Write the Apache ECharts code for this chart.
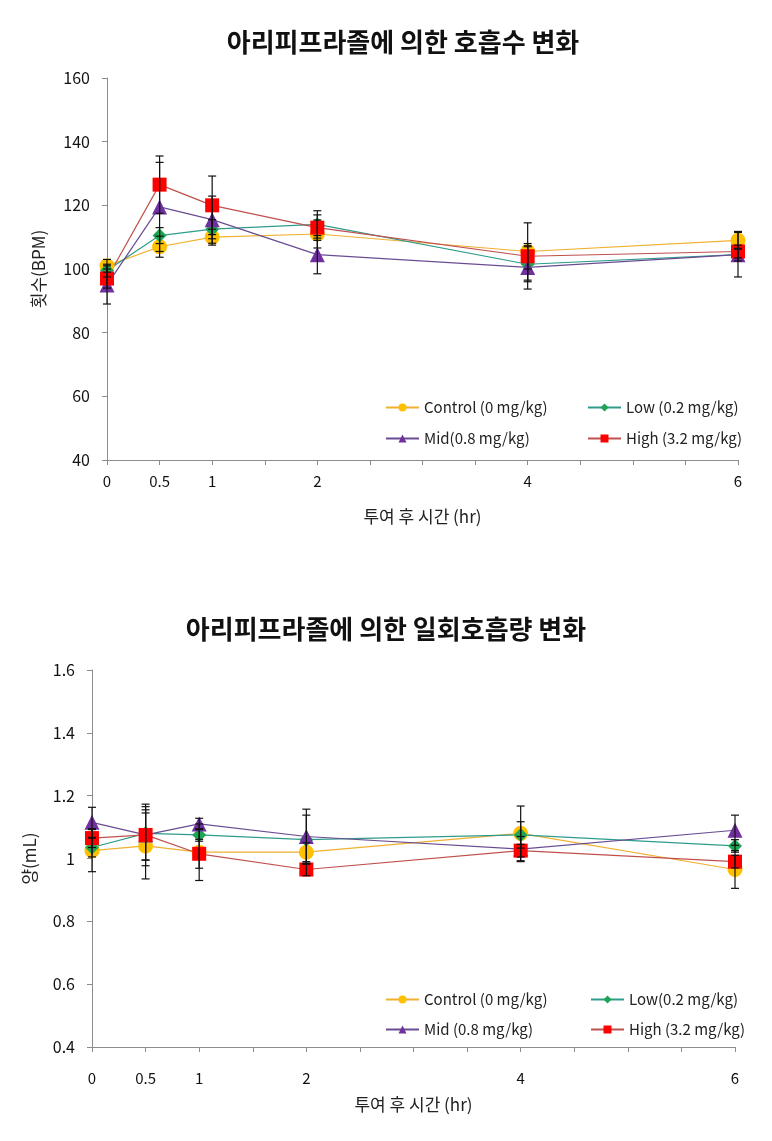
<!DOCTYPE html>
<html>
<head>
<meta charset="utf-8">
<script src="https://cdn.jsdelivr.net/npm/echarts@6/dist/echarts.min.js"></script>
<style>
html,body{margin:0;padding:0;background:#fff;}
#chart{width:772px;height:1141px;}
</style>
</head>
<body>
<div id="chart"></div>
<script>
// ---- Data ----
const timePoints = [0, 0.5, 1, 2, 4, 6];
const xTickLabels = [0, 0.5, 1, 2, 4, 6];

const titleTop = '아리피프라졸에 의한 호흡수 변화';
const titleBottom = '아리피프라졸에 의한 일회호흡량 변화';
const xName = '투여 후 시간 (hr)';
const yNameTop = '횟수(BPM)';
const yNameBottom = '양(mL)';

const namesTop = ['Control (0 mg/kg)', 'Low (0.2 mg/kg)', 'Mid(0.8 mg/kg)', 'High (3.2 mg/kg)'];
const namesBottom = ['Control (0 mg/kg) ', 'Low(0.2 mg/kg)', 'Mid (0.8 mg/kg)', 'High (3.2 mg/kg) '];

// respiratory rate (BPM)
const rrControl = [101, 107, 110, 111, 105.5, 109];
const rrLow     = [99.5, 110.5, 112.5, 114, 101.5, 104.5];
const rrMid     = [95, 119.5, 115.5, 104.5, 100.5, 104.5];
const rrHigh    = [97, 126.5, 120, 113, 104, 105.5];
const rrControlErr = [2, 3.3, 2.5, 4.4, 9, 2.8];
const rrLowErr     = [2, 2.5, 3, 4.3, 5.5, 2];
const rrMidErr     = [6, 14, 7.4, 6, 6.8, 7];
const rrHighErr    = [3, 9, 9.2, 4, 4, 2];

// tidal volume (mL)
const tvControl = [1.025, 1.04, 1.02, 1.02, 1.08, 0.965];
const tvLow     = [1.035, 1.08, 1.075, 1.06, 1.075, 1.04];
const tvMid     = [1.115, 1.075, 1.11, 1.07, 1.03, 1.09];
const tvHigh    = [1.065, 1.075, 1.015, 0.965, 1.025, 0.99];
const tvControlErr = [0.067, 0.105, 0.09, 0.03, 0.087, 0.06];
const tvLowErr     = [0.03, 0.085, 0.02, 0.078, 0.042, 0.02];
const tvMidErr     = [0.048, 0.08, 0.018, 0.087, 0.04, 0.048];
const tvHighErr    = [0.03, 0.098, 0.046, 0.02, 0.02, 0.02];

// ---- Styles ----
const FONT = "'Noto Sans CJK KR', 'Noto Sans', sans-serif";
const styles = [
  {symbol: 'circle', size: 15, color: '#FFC000', line: '#F0B030'},
  {symbol: 'diamond', size: 14, color: '#1EA554', line: '#2E9C8C'},
  {symbol: 'triangle', size: 15, color: '#7030A0', line: '#6A4C93'},
  {symbol: 'rect', size: 14, color: '#FF0000', line: '#C0504D'}
];

function lineSeries(name, vals, st, idx) {
  return {
    type: 'line', name: name, xAxisIndex: idx, yAxisIndex: idx,
    data: timePoints.map((t, i) => [t, vals[i]]),
    symbol: st.symbol, symbolSize: st.size,
    itemStyle: {color: st.color},
    lineStyle: {color: st.line, width: 1.2},
    z: 3
  };
}
function errSeries(vals, errs, idx) {
  return {
    type: 'custom', xAxisIndex: idx, yAxisIndex: idx, z: 5, silent: true,
    data: timePoints.map((t, i) => [t, vals[i] - errs[i], vals[i] + errs[i]]),
    encode: {x: 0, y: [1, 2]},
    renderItem: function (params, api) {
      const x = api.value(0);
      const lo = api.coord([x, api.value(1)]);
      const hi = api.coord([x, api.value(2)]);
      const w = 4;
      const st = {stroke: '#111', lineWidth: 1.2};
      return {type: 'group', children: [
        {type: 'line', shape: {x1: lo[0], y1: lo[1], x2: hi[0], y2: hi[1]}, style: st},
        {type: 'line', shape: {x1: hi[0] - w, y1: hi[1], x2: hi[0] + w, y2: hi[1]}, style: st},
        {type: 'line', shape: {x1: lo[0] - w, y1: lo[1], x2: lo[0] + w, y2: lo[1]}, style: st}
      ]};
    }
  };
}

function xAxis(idx, margin, nameGap) {
  return {
    type: 'value', gridIndex: idx, min: 0, max: 6, interval: 0.5,
    name: xName, nameLocation: 'middle', nameGap: nameGap,
    nameTextStyle: {fontFamily: FONT, fontSize: 17, color: '#222'},
    axisLine: {lineStyle: {color: '#8c8c8c', width: 1}},
    axisTick: {show: true, length: 5, lineStyle: {color: '#8c8c8c'}},
    splitLine: {show: false},
    axisLabel: {
      margin: margin, fontFamily: FONT, fontSize: 15, color: '#111',
      formatter: function (v) { return xTickLabels.indexOf(v) >= 0 ? String(v) : ''; }
    }
  };
}
function yAxis(idx, min, max, interval, name, nameGap) {
  return {
    type: 'value', gridIndex: idx, min: min, max: max, interval: interval,
    name: name, nameLocation: 'middle', nameGap: nameGap,
    nameTextStyle: {fontFamily: FONT, fontSize: 17, color: '#222'},
    axisLine: {show: true, lineStyle: {color: '#8c8c8c', width: 1}},
    axisTick: {show: true, length: 5, lineStyle: {color: '#8c8c8c'}},
    splitLine: {show: false},
    axisLabel: {margin: 17, fontFamily: FONT, fontSize: 16, color: '#111'}
  };
}
function legend(names, left, top, gap) {
  return {
    orient: 'vertical', left: left, top: top, itemGap: gap,
    itemWidth: 33, itemHeight: 10,
    data: names,
    textStyle: {fontFamily: FONT, fontSize: 15, color: '#222'}
  };
}

const chart = echarts.init(document.getElementById('chart'), null, {renderer: 'canvas'});
const series = [];
const rr = [rrControl, rrLow, rrMid, rrHigh];
const rrE = [rrControlErr, rrLowErr, rrMidErr, rrHighErr];
const tv = [tvControl, tvLow, tvMid, tvHigh];
const tvE = [tvControlErr, tvLowErr, tvMidErr, tvHighErr];
for (let i = 0; i < 4; i++) series.push(lineSeries(namesTop[i], rr[i], styles[i], 0));
for (let i = 0; i < 4; i++) series.push(errSeries(rr[i], rrE[i], 0));
for (let i = 0; i < 4; i++) series.push(lineSeries(namesBottom[i], tv[i], styles[i], 1));
for (let i = 0; i < 4; i++) series.push(errSeries(tv[i], tvE[i], 1));

chart.setOption({
  backgroundColor: '#fff',
  animation: false,
  title: [
    {text: titleTop, left: 398, top: 24, textAlign: 'center',
     textStyle: {fontFamily: FONT, fontSize: 26, fontWeight: 'bold', color: '#111'}},
    {text: titleBottom, left: 381, top: 611, textAlign: 'center',
     textStyle: {fontFamily: FONT, fontSize: 26, fontWeight: 'bold', color: '#111'}}
  ],
  grid: [
    {left: 107, right: 34, top: 78, height: 382},
    {left: 92, right: 37, top: 670, height: 377}
  ],
  xAxis: [xAxis(0, 14, 48), xAxis(1, 24, 49)],
  yAxis: [yAxis(0, 40, 160, 20, yNameTop, 60), yAxis(1, 0.4, 1.6, 0.2, yNameBottom, 54)],
  legend: [
    legend([namesTop[0], namesTop[2]], 380, 395, 16),
    legend([namesTop[1], namesTop[3]], 582, 395, 16),
    legend([namesBottom[0], namesBottom[2]], 380, 987, 15),
    legend([namesBottom[1], namesBottom[3]], 585, 987, 15)
  ],
  series: series
});
</script>
</body>
</html>
